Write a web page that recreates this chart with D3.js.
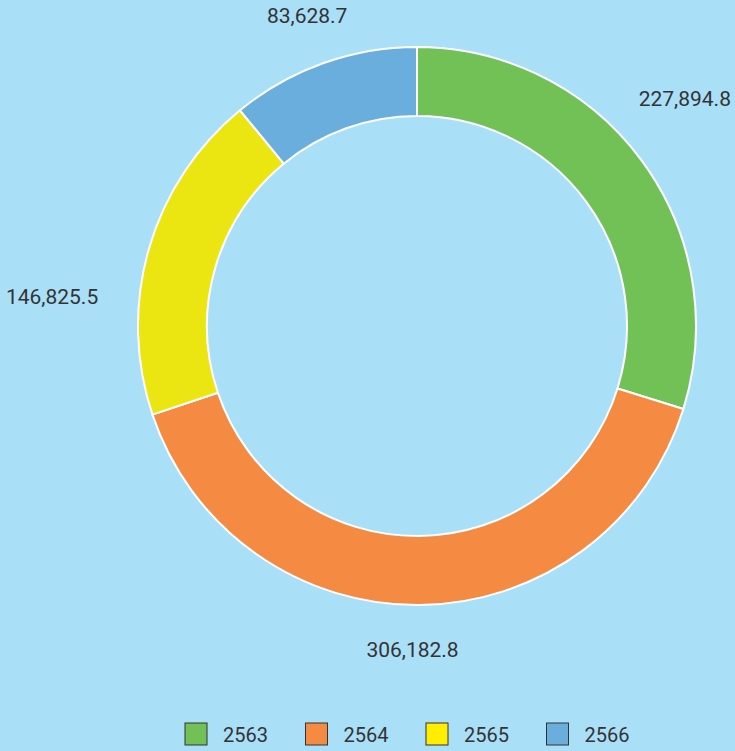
<!DOCTYPE html>
<html>
<head>
<meta charset="utf-8">
<script src="https://cdn.jsdelivr.net/npm/d3@7"></script>
<style>
  html, body { margin: 0; padding: 0; background: #aadff8; }
  text { font-family: Roboto, "Noto Sans", sans-serif; }
</style>
</head>
<body>
<div id="container"></div>
<script>
/* DATA */
const years = ["2563", "2564", "2565", "2566"];
const amounts = [227894.8, 306182.8, 146825.5, 83628.7];
const colors = ["#72c157", "#f58b42", "#ebe612", "#6aaede"];
const legendColors = ["#72c157", "#f58b42", "#ffee00", "#6aaede"];
// small hand nudges for the outside labels (px)
const labelNudge = [[-2, -28], [-8, -11], [-43, 64], [3, 5]];

/* CONSTANTS */
const width = 735,
  height = 751,
  cx = 417, cy = 326,
  outerR = 279, innerR = 210, labelR = 335;

const data = years.map((y, i) => ({ year: y, value: amounts[i], i }));

const svg = d3.select("#container")
  .append("svg")
  .attr("width", width)
  .attr("height", height)
  .style("display", "block")
  .style("background-color", "#aadff8");

const pie = d3.pie().sort(null).value(d => d.value);
const arcs = pie(data);

const arcGen = d3.arc().innerRadius(innerR).outerRadius(outerR);
const labelArc = d3.arc().innerRadius(labelR).outerRadius(labelR);

const g = svg.append("g").attr("transform", `translate(${cx},${cy})`);

g.selectAll("path.slice")
  .data(arcs)
  .join("path")
  .attr("class", "slice")
  .attr("d", arcGen)
  .attr("fill", d => colors[d.data.i])
  .attr("stroke", "#ffffff")
  .attr("stroke-width", 2)
  .attr("stroke-linejoin", "round");

const fmt = d3.format(",.1f");

g.selectAll("text.label")
  .data(arcs)
  .join("text")
  .attr("class", "label")
  .attr("x", d => labelArc.centroid(d)[0] + labelNudge[d.data.i][0])
  .attr("y", d => labelArc.centroid(d)[1] + labelNudge[d.data.i][1])
  .attr("text-anchor", "middle")
  .attr("dominant-baseline", "central")
  .style("font-size", "21px")
  .style("fill", "#333333")
  .text(d => fmt(d.data.value));

// LEGEND
const legend = svg.append("g").attr("transform", "translate(185,723)");
const item = legend.selectAll("g.item")
  .data(data)
  .join("g")
  .attr("class", "item")
  .attr("transform", d => `translate(${d.i * 120.5},0)`);

item.append("rect")
  .attr("width", 22)
  .attr("height", 22)
  .attr("fill", d => legendColors[d.i])
  .attr("stroke", "#333333")
  .attr("stroke-width", 1);

item.append("text")
  .attr("x", 38)
  .attr("y", 12)
  .attr("dominant-baseline", "central")
  .style("font-size", "20px")
  .style("fill", "#333333")
  .text(d => d.year);
</script>
</body>
</html>
